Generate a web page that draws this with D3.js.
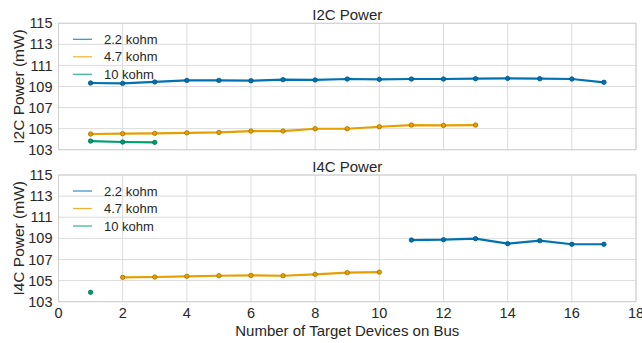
<!DOCTYPE html>
<html><head><meta charset="utf-8">
<script src="https://cdn.jsdelivr.net/npm/d3@7"></script>
<style>
body{margin:0;background:#fff;}
svg text{font-family:"Liberation Sans",Arial,sans-serif;fill:#262626;}
</style></head>
<body><svg id="c" width="642" height="343"></svg>
<script>
const seriesNames = ["2.2 kohm", "4.7 kohm", "10 kohm"];
const colors = ["#0072B2", "#E69F00", "#009E73"];
const xTicks = [0, 2, 4, 6, 8, 10, 12, 14, 16, 18];
const yTicks = [103, 105, 107, 109, 111, 113, 115];

// I2C Power
const i2cX_22 = [1,2,3,4,5,6,7,8,9,10,11,12,13,14,15,16,17];
const i2cY_22 = [109.33,109.30,109.43,109.58,109.58,109.55,109.65,109.62,109.71,109.68,109.71,109.71,109.74,109.77,109.74,109.71,109.40];
const i2cX_47 = [1,2,3,4,5,6,7,8,9,10,11,12,13];
const i2cY_47 = [104.49,104.52,104.55,104.60,104.64,104.77,104.77,104.99,104.99,105.18,105.34,105.30,105.34];
const i2cX_10 = [1,2,3];
const i2cY_10 = [103.82,103.73,103.70];

// I4C Power
const i4cX_22 = [11,12,13,14,15,16,17];
const i4cY_22 = [108.84,108.87,108.97,108.50,108.78,108.44,108.44];
const i4cX_47 = [2,3,4,5,6,7,8,9,10];
const i4cY_47 = [105.31,105.34,105.40,105.46,105.49,105.46,105.59,105.75,105.80];
const i4cX_10 = [1];
const i4cY_10 = [103.89];

const panels = [
  {title:"I2C Power", ylabel:"I2C Power (mW)", top:23.3, bottom:149.7,
   series:[[i2cX_22,i2cY_22],[i2cX_47,i2cY_47],[i2cX_10,i2cY_10]], xlabels:false},
  {title:"I4C Power", ylabel:"I4C Power (mW)", top:175, bottom:301.7,
   series:[[i4cX_22,i4cY_22],[i4cX_47,i4cY_47],[i4cX_10,i4cY_10]], xlabels:true}
];

const svg = d3.select("#c");
const left = 58.5, right = 636;
const x = d3.scaleLinear().domain([0,18]).range([left,right]);

panels.forEach(p => {
  const y = d3.scaleLinear().domain([103,115]).range([p.bottom,p.top]);
  const g = svg.append("g");
  g.selectAll(".vg").data(xTicks).enter().append("line")
    .attr("x1",d=>x(d)).attr("x2",d=>x(d)).attr("y1",p.top).attr("y2",p.bottom)
    .attr("stroke","#dcdcdc").attr("stroke-width",1);
  g.selectAll(".hg").data(yTicks).enter().append("line")
    .attr("x1",left).attr("x2",right).attr("y1",d=>y(d)).attr("y2",d=>y(d))
    .attr("stroke","#dcdcdc").attr("stroke-width",1);
  g.append("rect").attr("x",left).attr("y",p.top).attr("width",right-left).attr("height",p.bottom-p.top)
    .attr("fill","none").attr("stroke","#d0d0d0").attr("stroke-width",1);
  g.selectAll(".yl").data(yTicks).enter().append("text")
    .attr("x",left-6).attr("y",d=>y(d)).attr("dy","0.35em").attr("text-anchor","end")
    .attr("font-size",14.5).text(d=>d);
  if (p.xlabels) {
    g.selectAll(".xl").data(xTicks).enter().append("text")
      .attr("x",d=>x(d)).attr("y",p.bottom+11.5).attr("dy","0.35em").attr("text-anchor","middle")
      .attr("font-size",14.5).text(d=>d);
  }
  g.append("text").attr("x",(left+right)/2).attr("y",p.top-3).attr("text-anchor","middle")
    .attr("font-size",15).text(p.title);
  g.append("text").attr("transform",`translate(23.5,${(p.top+p.bottom)/2}) rotate(-90)`)
    .attr("text-anchor","middle").attr("font-size",15.5).text(p.ylabel);
  const line = d3.line().x(d=>x(d[0])).y(d=>y(d[1]));
  p.series.forEach((s,i) => {
    const pts = s[0].map((v,k)=>[v,s[1][k]]);
    if (pts.length>1) g.append("path").datum(pts).attr("d",line).attr("fill","none")
      .attr("stroke",colors[i]).attr("stroke-width",2.2);
    g.selectAll(null).data(pts).enter().append("circle")
      .attr("cx",d=>x(d[0])).attr("cy",d=>y(d[1])).attr("r",2.2)
      .attr("fill",colors[i]).attr("stroke",d3.color(colors[i]).darker(1)).attr("stroke-width",0.8);
  });
  seriesNames.forEach((n,i) => {
    const ly = p.top + 16 + i*17.5;
    g.append("line").attr("x1",73).attr("x2",92).attr("y1",ly).attr("y2",ly)
      .attr("stroke",colors[i]).attr("stroke-width",1.2).attr("stroke-opacity",0.8);
    g.append("text").attr("x",104).attr("y",ly).attr("dy","0.35em").attr("font-size",13).text(n);
  });
});

svg.append("text").attr("x",(left+right)/2).attr("y",336).attr("text-anchor","middle")
  .attr("font-size",15).text("Number of Target Devices on Bus");
</script></body></html>
